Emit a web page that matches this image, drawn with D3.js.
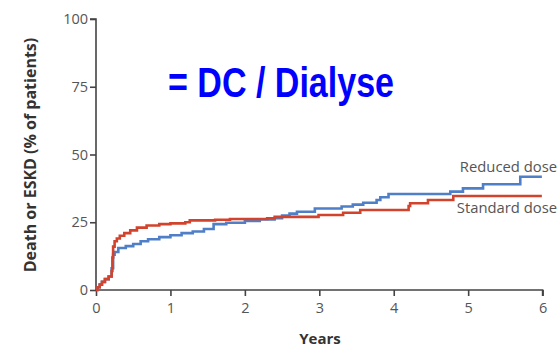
<!DOCTYPE html>
<html><head><meta charset="utf-8">
<script src="https://cdn.jsdelivr.net/npm/d3@7"></script>
<style>body{margin:0;background:#fff}</style>
</head><body>
<svg id="c" width="559" height="347"></svg>
<script>
const xTicks = [0,1,2,3,4,5,6];
const yTicks = [0,25,50,75,100];
const seriesNames = ["Reduced dose","Standard dose"];
const seriesColors = ["#4f7fc6","#d2432d"];
const reducedDose = [[0,0],[0.02,1],[0.05,2],[0.08,3],[0.12,4],[0.17,5],[0.21,8],[0.23,13],[0.25,14],[0.3,15.5],[0.4,16.2],[0.5,17],[0.6,18],[0.7,18.7],[0.85,19.5],[1.0,20.2],[1.15,21],[1.3,21.6],[1.45,22.5],[1.58,24.3],[1.75,24.8],[2.0,25.5],[2.2,26],[2.4,26.5],[2.5,27.5],[2.6,28.2],[2.7,28.9],[2.94,30.1],[3.3,30.8],[3.45,31.5],[3.59,32.2],[3.77,33.2],[3.82,34.2],[3.93,35.4],[4.76,36.3],[4.93,37.5],[5.2,39],[5.7,41.8],[5.99,41.8]];
const standardDose = [[0,0],[0.02,1],[0.05,2],[0.08,3],[0.12,4],[0.17,5],[0.21,7],[0.22,12],[0.23,16],[0.25,18],[0.28,19],[0.32,20],[0.38,21],[0.46,22],[0.55,23],[0.68,23.8],[0.85,24.3],[1.0,24.6],[1.2,25],[1.26,25.7],[1.6,25.9],[1.8,26.2],[2.3,26.5],[2.4,27],[2.99,27.7],[3.32,28.5],[3.55,29.5],[4.2,31],[4.22,32],[4.46,33.2],[4.8,34.7],[5.99,34.7]];

const svg = d3.select("#c");
const x = d3.scaleLinear().domain([0,6]).range([96,542.6]);
const y = d3.scaleLinear().domain([0,100]).range([290,19]);
const axisColor = "#444";
const labelColor = "#555";

const gx = svg.append("g").attr("transform","translate(0,290)")
  .call(d3.axisBottom(x).tickValues(xTicks).tickSize(6).tickPadding(7).tickFormat(d3.format("d")));
const gy = svg.append("g").attr("transform","translate(96,0)")
  .call(d3.axisLeft(y).tickValues(yTicks).tickSize(6).tickPadding(2).tickFormat(d3.format("d")));
[gx,gy].forEach(g=>{
  g.select(".domain").attr("stroke",axisColor).attr("stroke-width",1.6);
  g.selectAll(".tick line").attr("stroke",axisColor).attr("stroke-width",1.6);
  g.selectAll(".tick text").attr("fill",labelColor).attr("font-family","Open Sans, Lato, sans-serif").attr("font-size",14.5);
});
gy.select(".domain").attr("d","M-6,19H0V290");
gx.select(".domain").attr("d","M96,0H542.6V6");

const line = d3.line().x(d=>x(d[0])).y(d=>y(d[1])).curve(d3.curveStepAfter);
[reducedDose, standardDose].forEach((s,i)=>{
  svg.append("path").datum(s).attr("d",line).attr("fill","none")
    .attr("stroke",seriesColors[i]).attr("stroke-width",2.6);
});

svg.append("text").attr("x",557).attr("y",172).attr("text-anchor","end")
  .attr("font-family","Open Sans, Lato, sans-serif").attr("font-size",14.8).attr("fill",labelColor).text(seriesNames[0]);
svg.append("text").attr("x",557).attr("y",213).attr("text-anchor","end")
  .attr("font-family","Open Sans, Lato, sans-serif").attr("font-size",14.8).attr("fill",labelColor).text(seriesNames[1]);

svg.append("text").attr("transform","translate(36,155) rotate(-90)").attr("text-anchor","middle")
  .attr("font-family","Open Sans, Lato, sans-serif").attr("font-weight","bold").attr("font-size",16).attr("fill","#333")
  .text("Death or ESKD (% of patients)");
svg.append("text").attr("x",320).attr("y",344).attr("text-anchor","middle")
  .attr("font-family","Open Sans, Lato, sans-serif").attr("font-weight","bold").attr("font-size",15).attr("fill","#333")
  .text("Years");

svg.append("text").attr("x",168).attr("y",97).attr("textLength",226).attr("lengthAdjust","spacingAndGlyphs")
  .attr("font-family","Liberation Sans Narrow, Arial Narrow, Liberation Sans, sans-serif").attr("font-weight","bold").attr("font-size",42).attr("fill","#0000ff")
  .text("= DC / Dialyse");
</script>
</body></html>
